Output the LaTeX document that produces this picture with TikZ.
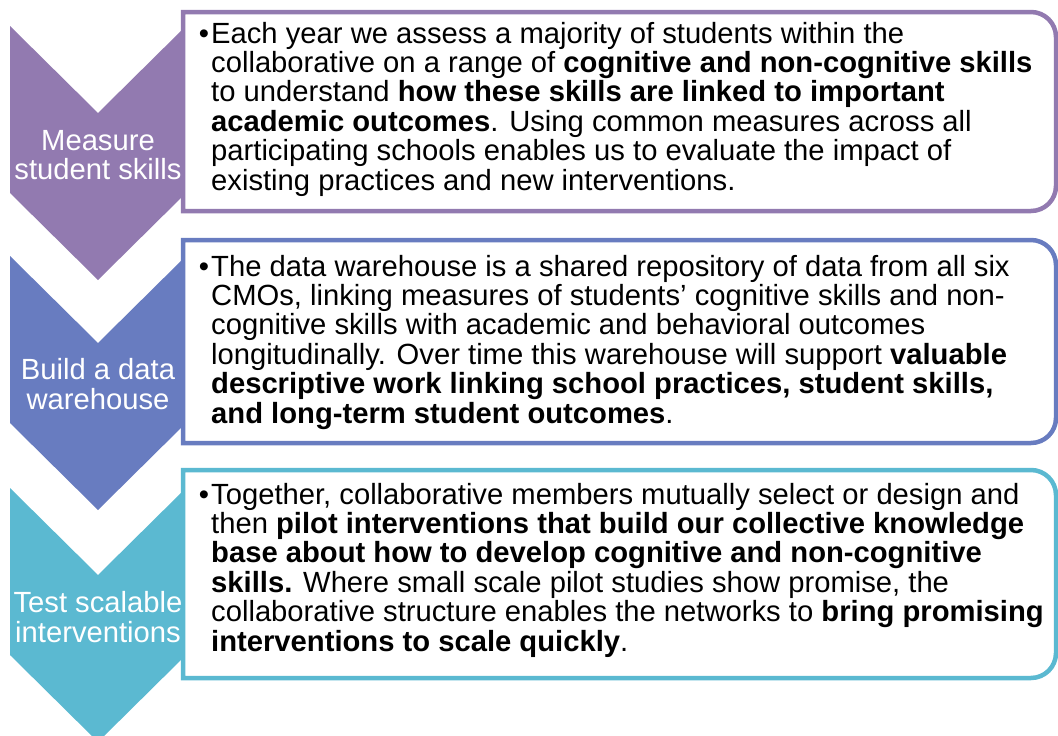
\documentclass[tikz,border=0pt]{standalone}
\usepackage{fontspec}
\setmainfont{Liberation Sans}
\definecolor{cPurple}{RGB}{146,122,176}
\definecolor{cBlue}{RGB}{104,124,192}
\definecolor{cCyan}{RGB}{91,185,209}
\tikzset{
  panel/.style={draw, line width=4.5pt, fill=white},
  label/.style={text=white, align=center, inner sep=0pt, font=\fontsize{29.2}{29.3}\selectfont},
  body/.style={text=black, align=left, anchor=base west, inner sep=0pt, font=\fontsize{29.2}{29.4}\selectfont},
}
\begin{document}
\begin{tikzpicture}[x=1pt,y=-1pt]
\useasboundingbox (0,0) rectangle (1058,736);
\clip (0,0) rectangle (1058,736);
% chevrons
\foreach \c/\t in {cPurple/26, cBlue/256, cCyan/488}{
  \fill[\c] (10,\t) -- (98,\t+87) -- (186,\t) -- (186,\t+167) -- (98,\t+254) -- (10,\t+167) -- cycle;
}
% panels
\foreach \c/\a/\b in {cPurple/12/211, cBlue/240/443, cCyan/470/678}{
  \draw[panel, draw=\c] (183,\a) -- (1031,\a) arc[start angle=-90,end angle=0,radius=25]
     -- (1056,\b-25) arc[start angle=0,end angle=90,radius=25] -- (183,\b) -- cycle;
}
% labels
\node[label] (l1) at (98,155) {Measure\\student skills};
\node[label] (l2) at (98,384) {Build a data\\warehouse};
\node[label] (l3) at (98,617) {Test scalable\\interventions};
% body texts (anchored at the baseline of the last line)
\node[body] (t1) at (211,190) {\llap{•\hspace{2pt}}Each year we assess a majority of students within the\\
collaborative on a range of \textbf{cognitive and non-cognitive skills}\\
to understand \textbf{how these skills are linked to important}\\
\textbf{academic outcomes}. Using common measures across all\\
participating schools enables us to evaluate the impact of\\
existing practices and new interventions.};
\node[body] (t2) at (211,423) {\llap{•\hspace{2pt}}The data warehouse is a shared repository of data from all six\\
CMOs, linking measures of students' cognitive skills and non-\\
cognitive skills with academic and behavioral outcomes\\
longitudinally. Over time this warehouse will support \textbf{valuable}\\
\textbf{descriptive work linking school practices, student skills,}\\
\textbf{and long-term student outcomes}.};
\node[body] (t3) at (211,651) {\llap{•\hspace{2pt}}Together, collaborative members mutually select or design and\\
then \textbf{pilot interventions that build our collective knowledge}\\
\textbf{base about how to develop cognitive and non-cognitive}\\
\textbf{skills.} Where small scale pilot studies show promise, the\\
collaborative structure enables the networks to \textbf{bring promising}\\
\textbf{interventions to scale quickly}.};
\end{tikzpicture}
\end{document}
